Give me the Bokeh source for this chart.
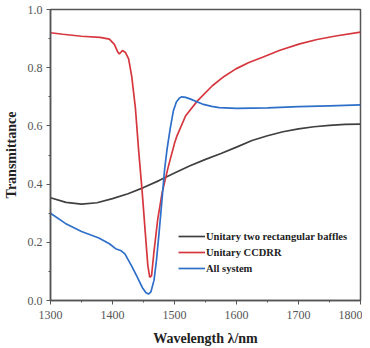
from bokeh.plotting import figure
from bokeh.models import Legend, LegendItem, FixedTicker, Range1d
from bokeh.embed import file_html
from bokeh.resources import INLINE

# Unitary two rectangular baffles
gray_x = [1300, 1325, 1350, 1375, 1400, 1425, 1450, 1475, 1500, 1525, 1550, 1575,
          1600, 1625, 1650, 1675, 1700, 1725, 1750, 1775, 1800]
gray_y = [0.353, 0.337, 0.331, 0.336, 0.350, 0.367, 0.388, 0.412, 0.438, 0.463, 0.485, 0.505,
          0.527, 0.550, 0.566, 0.580, 0.590, 0.597, 0.602, 0.605, 0.606]

# Unitary CCDRR
red_x = [1300, 1320, 1350, 1380, 1395, 1403, 1408, 1411, 1416, 1421, 1426, 1431, 1437,
         1442, 1448, 1453, 1457, 1460, 1463, 1467, 1473, 1480, 1490, 1500, 1504, 1518,
         1537, 1561, 1580, 1599, 1620, 1642, 1670, 1702, 1730, 1760, 1800]
red_y = [0.920, 0.915, 0.908, 0.904, 0.898, 0.880, 0.856, 0.847, 0.859, 0.852, 0.830, 0.770, 0.660,
         0.520, 0.370, 0.230, 0.120, 0.080, 0.085, 0.170, 0.280, 0.370, 0.460, 0.540, 0.566, 0.635,
         0.686, 0.738, 0.770, 0.796, 0.818, 0.836, 0.860, 0.882, 0.897, 0.909, 0.922]

# All system
blue_x = [1300, 1324, 1350, 1378, 1395, 1405, 1413, 1420, 1431, 1440, 1448, 1454, 1458,
          1462, 1467, 1471, 1475, 1480, 1484, 1488, 1493, 1498, 1503, 1508, 1512, 1518,
          1526, 1535, 1545, 1560, 1572, 1600, 1650, 1700, 1750, 1800]
blue_y = [0.300, 0.265, 0.237, 0.215, 0.195, 0.178, 0.172, 0.160, 0.118, 0.080, 0.045, 0.027, 0.022,
          0.030, 0.070, 0.140, 0.230, 0.350, 0.450, 0.520, 0.590, 0.650, 0.682, 0.696, 0.700, 0.698,
          0.692, 0.684, 0.675, 0.667, 0.663, 0.660, 0.662, 0.666, 0.669, 0.672]

series_names = ["Unitary two rectangular baffles", "Unitary CCDRR", "All system"]
x_ticks = [1300, 1400, 1500, 1600, 1700, 1800]
y_ticks = [0.0, 0.2, 0.4, 0.6, 0.8, 1.0]

p = figure(frame_width=310, frame_height=291, output_backend="svg", toolbar_location=None,
           x_range=Range1d(1300, 1800), y_range=Range1d(0, 1.0),
           min_border_left=43, min_border_right=2, min_border_top=9, min_border_bottom=38)
p.grid.visible = False
p.background_fill_color = "white"
p.outline_line_color = "#555555"
p.outline_line_width = 1.5

gc = "#404040"
rc = "#d6373f"
bc = "#2e6fc9"
r1 = p.line(gray_x, gray_y, line_color=gc, line_width=1.7)
r2 = p.line(red_x, red_y, line_color=rc, line_width=1.7)
r3 = p.line(blue_x, blue_y, line_color=bc, line_width=1.7)

for ax in (p.xaxis[0], p.yaxis[0]):
    ax.axis_line_color = "#555555"
    ax.axis_line_width = 1.5
    ax.major_tick_line_color = "#555555"
    ax.minor_tick_line_color = "#555555"
    ax.major_tick_in = 0
    ax.major_tick_out = 4
    ax.minor_tick_in = 0
    ax.minor_tick_out = 2
    ax.major_label_text_font = "Liberation Serif"
    ax.major_label_text_font_size = "12px"
    ax.major_label_text_color = "#555555"
    ax.axis_label_text_font = "Liberation Serif"
    ax.axis_label_text_font_style = "bold"
    ax.axis_label_text_font_size = "14px"
    ax.axis_label_text_color = "#222222"

p.xaxis.ticker = FixedTicker(ticks=x_ticks, minor_ticks=[1350, 1450, 1550, 1650, 1750])
p.yaxis.ticker = FixedTicker(ticks=y_ticks, minor_ticks=[0.1, 0.3, 0.5, 0.7, 0.9])
p.xaxis.major_label_overrides = {t: str(t) for t in x_ticks}
p.yaxis.major_label_overrides = {t: f"{t:.1f}" for t in y_ticks}
p.xaxis.axis_label = "Wavelength λ/nm"
p.yaxis.axis_label = "Transmittance"
p.xaxis.major_label_standoff = 6
p.xaxis.axis_label_standoff = 9
p.yaxis.major_label_standoff = 4
p.yaxis.axis_label_standoff = 6

legend = Legend(items=[LegendItem(label=series_names[0], renderers=[r1]),
                       LegendItem(label=series_names[1], renderers=[r2]),
                       LegendItem(label=series_names[2], renderers=[r3])],
                location=(128, 25), padding=0, margin=0, spacing=2,
                glyph_width=27, glyph_height=14, label_standoff=1,
                label_text_font="Liberation Serif", label_text_font_style="bold",
                label_text_font_size="10.5px", label_text_color="#222222",
                border_line_color=None, background_fill_alpha=0)
p.add_layout(legend)

open("out.html", "w").write(file_html(p, INLINE))
